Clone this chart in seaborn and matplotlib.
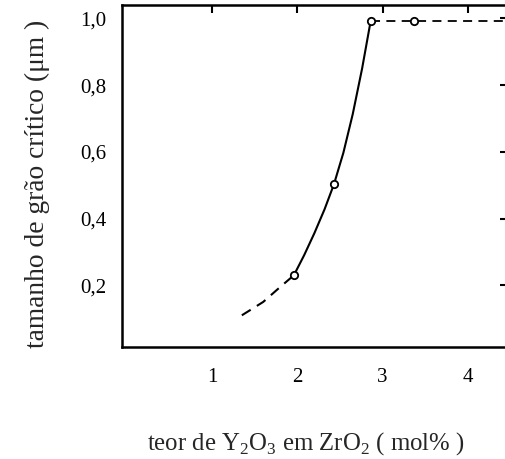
import matplotlib
matplotlib.use("Agg")
import matplotlib.pyplot as plt
import seaborn as sns

# data
meas_x = [1.96, 2.43, 2.86, 3.37]
meas_y = [0.23, 0.503, 0.992, 0.992]

low_dash_x = [1.35, 1.60, 1.80, 1.96]
low_dash_y = [0.11, 0.15, 0.195, 0.23]

solid_x = [1.96, 2.08, 2.20, 2.32, 2.43, 2.54, 2.65, 2.76, 2.86]
solid_y = [0.23, 0.29, 0.356, 0.428, 0.503, 0.597, 0.713, 0.85, 0.992]

top_dash_x = [2.86, 3.37, 4.47]
top_dash_y = [0.992, 0.992, 0.992]

xticks = [1, 2, 3, 4]
yticks = [0.2, 0.4, 0.6, 0.8, 1.0]
ytick_labels = ["0,2", "0,4", "0,6", "0,8", "1,0"]

sns.set_style("white")
plt.rcParams['font.family'] = ['Liberation Serif', 'DejaVu Serif']
plt.rcParams['mathtext.fontset'] = 'custom'
plt.rcParams['mathtext.rm'] = 'Liberation Serif'

fig = plt.figure(figsize=(5.06, 4.59), dpi=100)
ax = fig.add_axes([122/506, 1-347/459, 386/506, 342/459])

sns.lineplot(x=low_dash_x, y=low_dash_y, ax=ax, color="black", lw=1.5,
             linestyle=(0, (5, 3.5)), sort=False, estimator=None)
sns.lineplot(x=solid_x, y=solid_y, ax=ax, color="black", lw=1.5,
             sort=False, estimator=None)
sns.lineplot(x=top_dash_x, y=top_dash_y, ax=ax, color="black", lw=1.3,
             linestyle=(0, (5, 3.5)), sort=False, estimator=None)
sns.scatterplot(x=meas_x, y=meas_y, ax=ax, marker="o", s=28,
                facecolor="white", edgecolor="black", linewidth=1.3, zorder=5)

ax.set_xlim(-0.055, 4.47)
ax.set_ylim(0.015, 1.04)
ax.set_xticks(xticks)
ax.set_xticklabels([str(t) for t in xticks])
ax.set_yticks(yticks)
ax.set_yticklabels(ytick_labels)

for s in ax.spines.values():
    s.set_linewidth(1.8)
    s.set_color("black")

ax.tick_params(direction="in", length=6, width=1.5, top=True, right=True,
               labelsize=15, colors="black")
ax.tick_params(axis="y", pad=11)
ax.tick_params(axis="x", pad=15)

ax.set_xlabel(r"teor de Y$_2$O$_3$ em ZrO$_2$ ( mol% )", fontsize=17.8, labelpad=31)
ax.set_ylabel("tamanho de grão crítico (μm )", fontsize=19.8, labelpad=22)
ax.xaxis.label.set_x(0.477)
ax.yaxis.label.set_y(0.478)

fig.savefig("out.png", dpi=100)
